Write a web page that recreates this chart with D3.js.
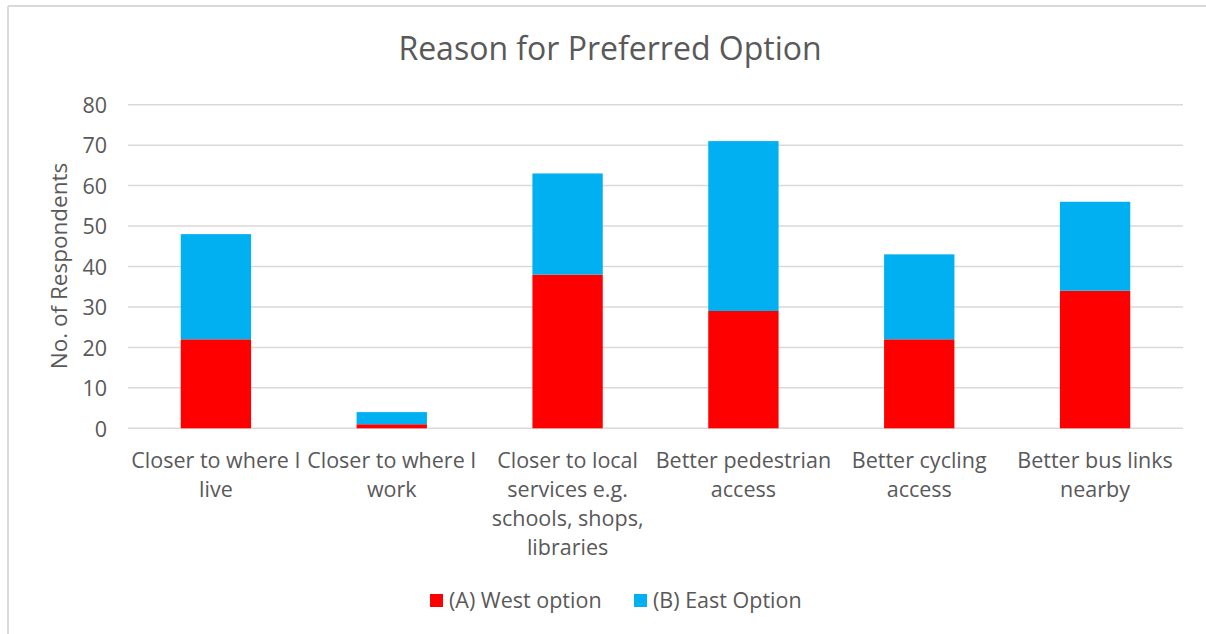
<!DOCTYPE html>
<html>
<head>
<meta charset="utf-8">
<script src="https://cdn.jsdelivr.net/npm/d3@7"></script>
<style>
  html, body { margin: 0; padding: 0; background: #fff; }
  svg { display: block; }
  text { font-family: "Open Sans", Lato, sans-serif; fill: #595959; }
</style>
</head>
<body>
<svg id="chart" width="1206" height="634"></svg>
<script>
const categories = [
  "Closer to where I live",
  "Closer to where I work",
  "Closer to local services e.g. schools, shops, libraries",
  "Better pedestrian access",
  "Better cycling access",
  "Better bus links nearby"
];
const categoryLines = [
  ["Closer to where I", "live"],
  ["Closer to where I", "work"],
  ["Closer to local", "services e.g.", "schools, shops,", "libraries"],
  ["Better pedestrian", "access"],
  ["Better cycling", "access"],
  ["Better bus links", "nearby"]
];
const seriesNames = ["(A) West option", "(B) East Option"];
const westValues = [22, 1, 38, 29, 22, 34];
const eastValues = [26, 3, 25, 42, 21, 22];
const yTicks = [0, 10, 20, 30, 40, 50, 60, 70, 80];
const colors = ["#FF0000", "#00B0F0"];

const svg = d3.select("#chart");
const W = 1206, H = 634;
const FS = "21.5px";

// chart border (top + left only visible)
svg.append("line").attr("x1", 8).attr("x2", W).attr("y1", 6).attr("y2", 6)
  .attr("stroke", "#d9d9d9").attr("stroke-width", 2);
svg.append("line").attr("x1", 8).attr("x2", 8).attr("y1", 6).attr("y2", H)
  .attr("stroke", "#d9d9d9").attr("stroke-width", 2);

const plot = { left: 128, right: 1183, top: 104.7, bottom: 428.3 };

const x = d3.scaleBand().domain(categories)
  .range([plot.left, plot.right]).paddingInner(0.6).paddingOuter(0.3);
const y = d3.scaleLinear().domain([0, 80]).range([plot.bottom, plot.top]);

// gridlines
svg.append("g").selectAll("line").data(yTicks).join("line")
  .attr("x1", plot.left).attr("x2", plot.right)
  .attr("y1", d => y(d)).attr("y2", d => y(d))
  .attr("stroke", "#d9d9d9").attr("stroke-width", 1.5);

// y axis labels
const yAxis = d3.axisLeft(y).tickValues(yTicks).tickSize(0).tickPadding(0);
const yg = svg.append("g").attr("transform", `translate(${107},0)`).call(yAxis);
yg.select(".domain").remove();
yg.selectAll("text").style("font-size", FS).style("font-family", "'Open Sans', sans-serif")
  .attr("fill", "#595959").attr("dy", "0.36em");

// stacked data
const rows = categories.map((c, i) => ({ cat: c, west: westValues[i], east: eastValues[i] }));
const stack = d3.stack().keys(["west", "east"])(rows);

svg.append("g").selectAll("g").data(stack).join("g")
  .attr("fill", (d, i) => colors[i])
  .selectAll("rect").data(d => d).join("rect")
  .attr("x", d => x(d.data.cat))
  .attr("width", x.bandwidth())
  .attr("y", d => y(d[1]))
  .attr("height", d => y(d[0]) - y(d[1]));

// x axis labels
const xg = svg.append("g");
categories.forEach((c, i) => {
  const t = xg.append("text")
    .attr("x", x(c) + x.bandwidth() / 2)
    .attr("y", 468)
    .attr("text-anchor", "middle")
    .style("font-size", FS);
  categoryLines[i].forEach((ln, j) => {
    t.append("tspan").attr("x", x(c) + x.bandwidth() / 2).attr("dy", j === 0 ? 0 : 29).text(ln);
  });
});

// title
svg.append("text").attr("x", 610).attr("y", 60).attr("text-anchor", "middle")
  .style("font-size", "32px").text("Reason for Preferred Option");

// y axis title
svg.append("text")
  .attr("transform", `translate(67,${266}) rotate(-90)`)
  .attr("text-anchor", "middle")
  .style("font-size", "22.5px")
  .text("No. of Respondents");

// legend
const legendX = [430, 634];
const lg = svg.append("g");
seriesNames.forEach((s, i) => {
  lg.append("rect").attr("x", legendX[i]).attr("y", 594).attr("width", 13).attr("height", 13)
    .attr("fill", colors[i]);
  lg.append("text").attr("x", legendX[i] + 19).attr("y", 608)
    .style("font-size", FS).text(s);
});
</script>
</body>
</html>
